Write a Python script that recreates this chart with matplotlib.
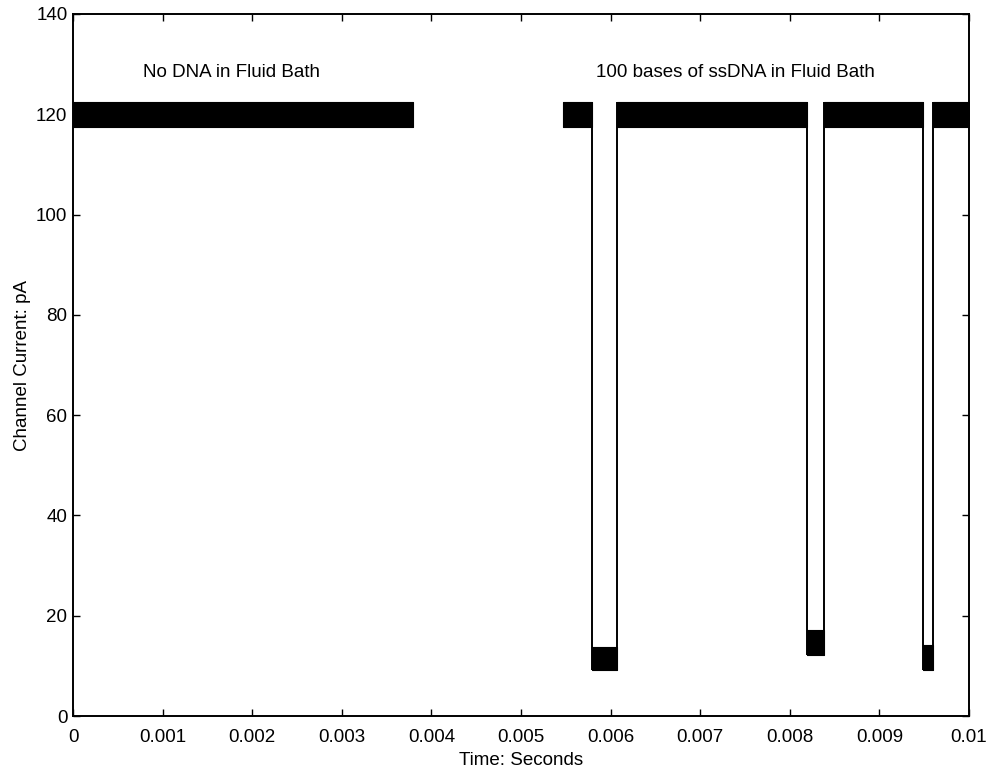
import matplotlib
matplotlib.use("Agg")
import matplotlib.pyplot as plt
import numpy as np

plt.rcParams['font.family'] = ['Liberation Sans', 'DejaVu Sans']

# open channel trace, no DNA in bath: time span and noise envelope [pA]
quiet_t = [0.0, 0.0038]
quiet_lo = 117.5
quiet_hi = 122.5

# trace with ssDNA: level edges [s] and noise envelope of each level [pA]
level_t = [0.00547, 0.00579, 0.00607, 0.00819, 0.00838, 0.00949, 0.00960, 0.01]
level_lo = [117.5, 9.2, 117.5, 12.2, 117.5, 9.2, 117.5]
level_hi = [122.5, 13.8, 122.5, 17.2, 122.5, 14.2, 122.5]

x_ticks = [0, 0.001, 0.002, 0.003, 0.004, 0.005, 0.006, 0.007, 0.008, 0.009, 0.01]
x_labels = ["0", "0.001", "0.002", "0.003", "0.004", "0.005",
            "0.006", "0.007", "0.008", "0.009", "0.01"]
y_ticks = [0, 20, 40, 60, 80, 100, 120, 140]


def main():
    fig = plt.figure(figsize=(9.92, 7.72), dpi=100)
    ax = fig.add_axes([0.0736, 0.0725, 0.9032, 0.9094])

    # quiet segment
    ax.fill_between(quiet_t, [quiet_lo]*2, [quiet_hi]*2, color='k', lw=0.8)

    # segments with blockades
    for i in range(len(level_lo)):
        t0, t1 = level_t[i], level_t[i+1]
        ax.fill_between([t0, t1], [level_lo[i]]*2, [level_hi[i]]*2,
                        color='k', lw=0.8)
        # vertical transition to the next level
        if i < len(level_lo) - 1:
            lo = min(level_lo[i], level_lo[i+1])
            hi = max(level_hi[i], level_hi[i+1])
            ax.vlines(t1, lo, hi, color='k', lw=1.4)

    ax.text(0.00078, 128.4, "No DNA in Fluid Bath", fontsize=13.5, va='center')
    ax.text(0.00584, 128.4, "100 bases of ssDNA in Fluid Bath", fontsize=13.5,
            va='center')

    ax.set_xlim(0, 0.01)
    ax.set_ylim(0, 140)
    ax.set_xticks(x_ticks)
    ax.set_xticklabels(x_labels)
    ax.set_yticks(y_ticks)
    ax.tick_params(direction='in', top=True, right=True, length=5,
                   width=1.0, labelsize=13.5, pad=4)
    ax.tick_params(axis='x', pad=9)
    for s in ax.spines.values():
        s.set_linewidth(1.4)

    ax.set_xlabel("Time: Seconds", fontsize=13.5, labelpad=5)
    ax.set_ylabel("Channel Current: pA", fontsize=13.5, labelpad=4)

    fig.savefig('out.png', dpi=100)


if __name__ == "__main__":
    main()
